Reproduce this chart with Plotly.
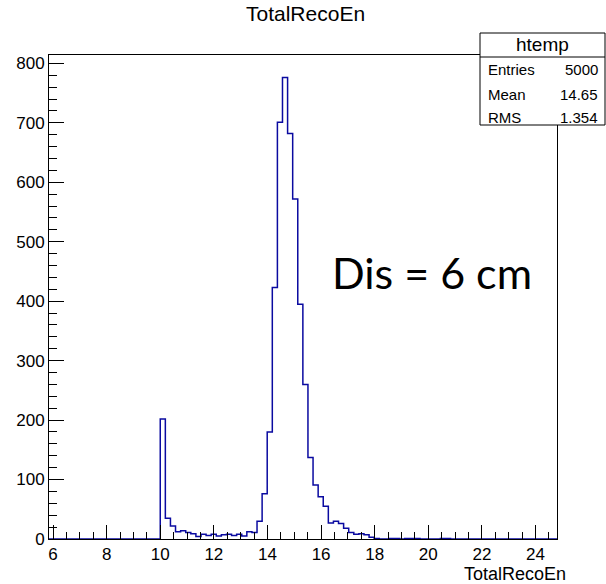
import numpy as np
import plotly.graph_objects as go

# ---- data ----
BIN_LOW = 5.82
BIN_HIGH = 24.82
N_BINS = 100
counts = [0] * 22 + [
    202, 35, 22, 12, 14, 11, 9, 4, 8, 6,
    8, 5, 7, 8, 6, 8, 5, 12, 11, 30,
    76, 180, 423, 701, 776, 682, 572, 395, 260, 137,
    91, 71, 55, 27, 30, 26, 18, 11, 8, 9,
    7, 3, 1, 0, 0, 1, 1, 0, 1, 1,
    1, 0, 0, 0, 0, 1, 1,
]
counts = counts + [0] * (N_BINS - len(counts))
x_ticks = [6, 8, 10, 12, 14, 16, 18, 20, 22, 24]
y_ticks = [0, 100, 200, 300, 400, 500, 600, 700, 800]
stats_labels = ["Entries", "Mean", "RMS"]
stats_values = ["5000", "14.65", "1.354"]
hist_name = "htemp"
var_name = "TotalRecoEn"
note = "Dis = 6 cm"

edges = np.linspace(BIN_LOW, BIN_HIGH, N_BINS + 1)
xs = list(edges)
ys = list(counts) + [counts[-1]]

W, H = 606, 584
L, R, T, B = 49, 49, 55, 45
pw, ph = W - L - R, H - T - B

def px2paper_x(px):
    return (px - L) / pw

def px2paper_y(py):
    return (H - B - py) / ph

fig = go.Figure()
fig.add_trace(go.Scatter(
    x=xs, y=ys, mode="lines", line_shape="hv",
    line=dict(color="#0a0aa0", width=1.5), hoverinfo="skip", showlegend=False,
))

font = "Liberation Sans, Arial, sans-serif"
fig.update_layout(
    width=W, height=H,
    margin=dict(l=L, r=R, t=T, b=B),
    paper_bgcolor="white", plot_bgcolor="white",
    showlegend=False,
    font=dict(family=font, color="black", size=16),
    xaxis=dict(
        range=[5.85, 24.8], showgrid=False, zeroline=False,
        showline=True, mirror=True, linecolor="black", linewidth=1,
        layer="above traces",
        ticks="inside", ticklen=14, tickcolor="black", tickwidth=1,
        tickvals=x_ticks, ticktext=[str(v) for v in x_ticks],
        tickfont=dict(size=17, family=font),
        minor=dict(ticks="inside", ticklen=7, dtick=0.5, tick0=6, tickcolor="black", showgrid=False),
    ),
    yaxis=dict(
        range=[0, 814], showgrid=False, zeroline=False,
        showline=True, mirror=True, linecolor="black", linewidth=1,
        layer="above traces",
        ticks="inside", ticklen=15, tickcolor="black", tickwidth=1,
        tickvals=y_ticks, ticktext=[str(v) for v in y_ticks],
        tickfont=dict(size=17, family=font),
        minor=dict(ticks="inside", ticklen=7.5, dtick=20, tick0=0, tickcolor="black", showgrid=False),
    ),
)

# title
fig.add_annotation(text=var_name, xref="paper", yref="paper",
                   x=px2paper_x(305), y=px2paper_y(14), xanchor="center", yanchor="middle",
                   showarrow=False, font=dict(size=21, family=font))
# x axis title
fig.add_annotation(text=var_name, xref="paper", yref="paper",
                   x=px2paper_x(568), y=px2paper_y(574), xanchor="right", yanchor="middle",
                   showarrow=False, font=dict(size=18, family=font))

# stats box
bx0, bx1, by0, by1 = 480, 605, 33, 125
fig.add_shape(type="rect", xref="paper", yref="paper",
              x0=px2paper_x(bx0), x1=px2paper_x(bx1), y0=px2paper_y(by1), y1=px2paper_y(by0),
              line=dict(color="black", width=1), fillcolor="white", layer="above")
fig.add_shape(type="line", xref="paper", yref="paper",
              x0=px2paper_x(bx0), x1=px2paper_x(bx1), y0=px2paper_y(57), y1=px2paper_y(57),
              line=dict(color="black", width=1), layer="above")
fig.add_annotation(text=hist_name, xref="paper", yref="paper",
                   x=px2paper_x((bx0 + bx1) / 2), y=px2paper_y(45), xanchor="center", yanchor="middle",
                   showarrow=False, font=dict(size=19, family=font))
row_y = [70, 94, 117]
for lab, val, ry in zip(stats_labels, stats_values, row_y):
    fig.add_annotation(text=lab, xref="paper", yref="paper",
                       x=px2paper_x(486), y=px2paper_y(ry), xanchor="left", yanchor="middle",
                       showarrow=False, font=dict(size=15, family=font))
    fig.add_annotation(text=val, xref="paper", yref="paper",
                       x=px2paper_x(600), y=px2paper_y(ry), xanchor="right", yanchor="middle",
                       showarrow=False, font=dict(size=15, family=font))

# annotation text
fig.add_annotation(text=note, xref="paper", yref="paper",
                   x=px2paper_x(432), y=px2paper_y(272), xanchor="center", yanchor="middle",
                   showarrow=False, font=dict(size=43, family="Lato, Carlito, sans-serif"))

fig.write_html("out.html", config={"displayModeBar": False},
               post_script="document.body.style.margin='0';document.body.style.padding='0';")
